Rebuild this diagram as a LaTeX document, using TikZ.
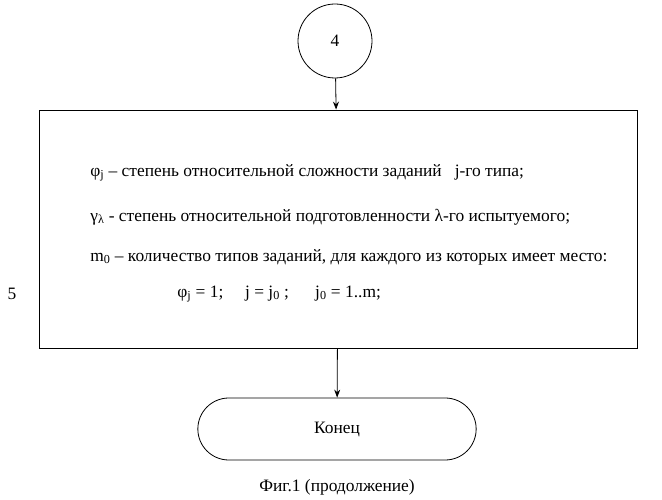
\documentclass[tikz,border=0pt]{standalone}
\usepackage{fontspec}
\setmainfont{Liberation Serif}
\usetikzlibrary{shapes.misc,arrows.meta}
\begin{document}
\begin{tikzpicture}[x=1pt,y=-1pt,thick,font=\fontsize{17.4}{20}\selectfont]
\useasboundingbox (0,0) rectangle (662,500);
\node[draw,circle,minimum size=74pt,inner sep=0pt] at (335,41) (c) {4};
\node[draw,rectangle,minimum width=598pt,minimum height=238pt] at (338,229) (b) {};
\node[draw,rounded rectangle,minimum width=285pt,minimum height=62pt] at (337,429) (e) {Конец};
\node[anchor=west,inner sep=0pt] at (90,173) (t1) {φ\textsubscript{j} – степень относительной сложности заданий \ \ j-го типа;};
\node[anchor=west,inner sep=0pt] at (90,217) (t2) {γ\textsubscript{λ} - степень относительной подготовленности λ-го испытуемого;};
\node[anchor=west,inner sep=0pt] at (90,257) (t3) {m\textsubscript{0} – количество типов заданий, для каждого из которых имеет место:};
\node[anchor=west,inner sep=0pt] at (177,294) (t4) {φ\textsubscript{j} = 1; \quad j = j\textsubscript{0} ; \quad\ j\textsubscript{0} = 1..m;};
\node at (12,294) (n) {5};
\node at (337,487) (cap) {Фиг.1 (продолжение)};

\draw[-{Stealth[length=8pt,width=6pt]}] (c) -- (b) ;
\draw[-{Stealth[length=8pt,width=6pt]}] (b) -- (e) ;

\end{tikzpicture}
\end{document}
